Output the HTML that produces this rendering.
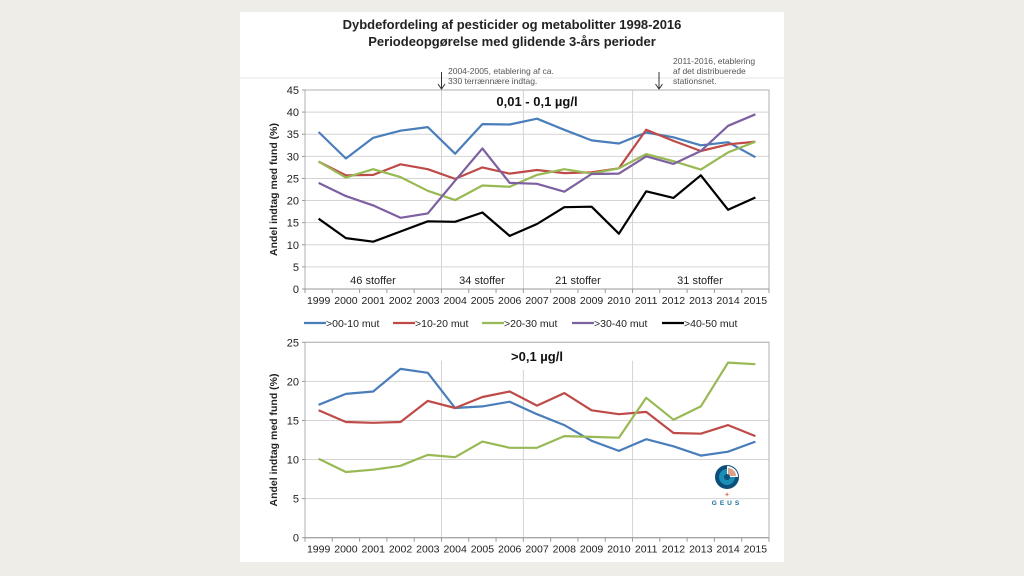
<!DOCTYPE html>
<html><head><meta charset="utf-8"><style>
html,body{margin:0;padding:0;background:#eeede7;}
svg{display:block;font-family:"Liberation Sans",Arial,sans-serif;}
</style></head><body>
<svg id="s" width="1024" height="576" viewBox="0 0 1024 576" xmlns="http://www.w3.org/2000/svg">
<rect x="0" y="0" width="1024" height="576" fill="#eeede7"/>
<rect x="240" y="12" width="544" height="550" fill="#fff"/>
<text x="512" y="29" text-anchor="middle" font-size="13" font-weight="bold" fill="#222">Dybdefordeling af pesticider og metabolitter 1998-2016</text>
<text x="512" y="46" text-anchor="middle" font-size="13" font-weight="bold" fill="#222">Periodeopgørelse med glidende 3-års perioder</text>
<line x1="240" y1="78" x2="784" y2="78" stroke="#e4e4e4" stroke-width="1"/>
<text x="448" y="74" font-size="8.5" fill="#555">2004-2005, etablering af ca.</text>
<text x="448" y="84" font-size="8.5" fill="#555">330 terrænnære indtag.</text>
<text x="673" y="64" font-size="8.5" fill="#555">2011-2016, etablering</text>
<text x="673" y="74" font-size="8.5" fill="#555">af det distribuerede</text>
<text x="673" y="84" font-size="8.5" fill="#555">stationsnet.</text>
<g stroke="#333" stroke-width="1" fill="none">
<line x1="441.5" y1="72" x2="441.5" y2="89"/><polyline points="438,84 441.5,89 445,84"/>
<line x1="659" y1="72" x2="659" y2="89"/><polyline points="655.5,84 659,89 662.5,84"/>
</g>
<g id="g"></g>
<!-- logo -->
<g transform="translate(727,477)">
<circle r="12" fill="#0d4f7a"/>
<circle r="8" fill="#1a8fb5"/>
<path d="M0,0 L0,-11 A11,11 0 0 1 11,0 Z" fill="#fff"/>
<path d="M1,-1 L1,-9 A8,8 0 0 1 9,-1 Z" fill="#d9a08a"/>
<circle r="3" fill="#0d4f7a"/>
</g>
<text x="727" y="505" text-anchor="middle" font-size="6.5" letter-spacing="3" font-weight="bold" fill="#1a6e9a">GEUS</text>
<text x="727" y="497" text-anchor="middle" font-size="7" fill="#e08060">✦</text>
</svg>
<script>
var g=document.getElementById('g');var h='';
var L=305,R=769,n=17,cw=(R-L)/n;
function cx(i){return L+cw*(i+0.5);}
function chart(top,bot,max,step,lines,series,title,ty){
  var sy=function(v){return bot-(v/max)*(bot-top);};
  for(var v=step;v<=max;v+=step){h+='<line x1="'+L+'" y1="'+sy(v)+'" x2="'+R+'" y2="'+sy(v)+'" stroke="#d4d4d4"/>';}
  lines.forEach(function(l){h+='<line x1="'+l[0]+'" y1="'+l[1]+'" x2="'+l[0]+'" y2="'+bot+'" stroke="#d4d4d4"/>';});
  h+='<rect x="'+L+'" y="'+top+'" width="'+(R-L)+'" height="'+(bot-top)+'" fill="none" stroke="#b0b0b0"/>';
  h+='<line x1="'+L+'" y1="'+bot+'" x2="'+R+'" y2="'+bot+'" stroke="#999"/>';
  for(var v=0;v<=max;v+=step){h+='<line x1="'+(L-3)+'" y1="'+sy(v)+'" x2="'+L+'" y2="'+sy(v)+'" stroke="#999"/><text x="'+(L-6)+'" y="'+(sy(v)+4)+'" text-anchor="end" font-size="11" fill="#222">'+v+'</text>';}
  for(var i=0;i<=n;i++){var x=L+cw*i;h+='<line x1="'+x+'" y1="'+bot+'" x2="'+x+'" y2="'+(bot+4)+'" stroke="#999"/>';}
  for(var i=0;i<n;i++){h+='<text x="'+cx(i)+'" y="'+(bot+15)+'" text-anchor="middle" font-size="10.5" fill="#222">'+(1999+i)+'</text>';}
  series.forEach(function(s){var p=s[1].map(function(v,i){return cx(i).toFixed(1)+','+sy(v).toFixed(1);}).join(' ');
    h+='<polyline points="'+p+'" fill="none" stroke="'+s[0]+'" stroke-width="2.2" stroke-linejoin="round"/>';});
  h+='<text x="537" y="'+ty+'" text-anchor="middle" font-size="13" font-weight="bold" fill="#111">'+title+'</text>';
  var my=(top+bot)/2;
  h+='<text transform="translate(277,'+my+') rotate(-90)" text-anchor="middle" font-size="10.5" font-weight="bold" fill="#222">Andel indtag med fund (%)</text>';
}
var B='#4a7ebb',Rd='#be4b48',G='#98b954',P='#7d60a0',K='#000';
chart(90,289,45,5,[[441.5,90],[523.4,90],[632.6,90]],[
 [B,[35.5,29.5,34.2,35.8,36.6,30.6,37.3,37.2,38.5,36,33.6,32.9,35.4,34.3,32.5,33.2,29.8]],
 [Rd,[28.8,25.7,25.8,28.2,27.1,24.9,27.5,26.1,26.9,26.2,26.4,27.3,36,33.5,31.2,32.7,33.3]],
 [G,[28.8,25.2,27.1,25.3,22.2,20.1,23.4,23.1,25.8,27.1,26.1,27.3,30.5,28.9,27,30.9,33.3]],
 [P,[24,21,18.9,16.1,17.1,24.5,31.8,24,23.8,22,26,26.1,30,28.3,31.2,36.9,39.5]],
 [K,[15.9,11.5,10.7,13,15.3,15.2,17.3,12,14.7,18.5,18.6,12.5,22.1,20.6,25.7,17.9,20.7]]
],'0,01 - 0,1 µg/l',106);
chart(342.3,537.7,25,5,[[441.5,360.7],[523.4,370],[632.6,360.7]],[
 [B,[17,18.4,18.7,21.6,21.1,16.6,16.8,17.4,15.8,14.4,12.4,11.1,12.6,11.7,10.5,11,12.3]],
 [Rd,[16.3,14.8,14.7,14.8,17.5,16.6,18,18.7,16.9,18.5,16.3,15.8,16.1,13.4,13.3,14.4,13]],
 [G,[10.1,8.4,8.7,9.2,10.6,10.3,12.3,11.5,11.5,13,12.9,12.8,17.9,15.1,16.8,22.4,22.2]]
],'&gt;0,1 µg/l',361);
[['46 stoffer',373],['34 stoffer',482],['21 stoffer',578],['31 stoffer',700]].forEach(function(t){h+='<text x="'+t[1]+'" y="284" text-anchor="middle" font-size="11" fill="#222">'+t[0]+'</text>';});
[[B,'&gt;00-10 mut',304],[Rd,'&gt;10-20 mut',393],[G,'&gt;20-30 mut',482],[P,'&gt;30-40 mut',572],[K,'&gt;40-50 mut',662]].forEach(function(e){
 h+='<line x1="'+e[2]+'" y1="323" x2="'+(e[2]+22)+'" y2="323" stroke="'+e[0]+'" stroke-width="2.2"/><text x="'+(e[2]+22)+'" y="327" font-size="10.5" fill="#222">'+e[1]+'</text>';});
g.innerHTML=h;
</script>
</body></html>
